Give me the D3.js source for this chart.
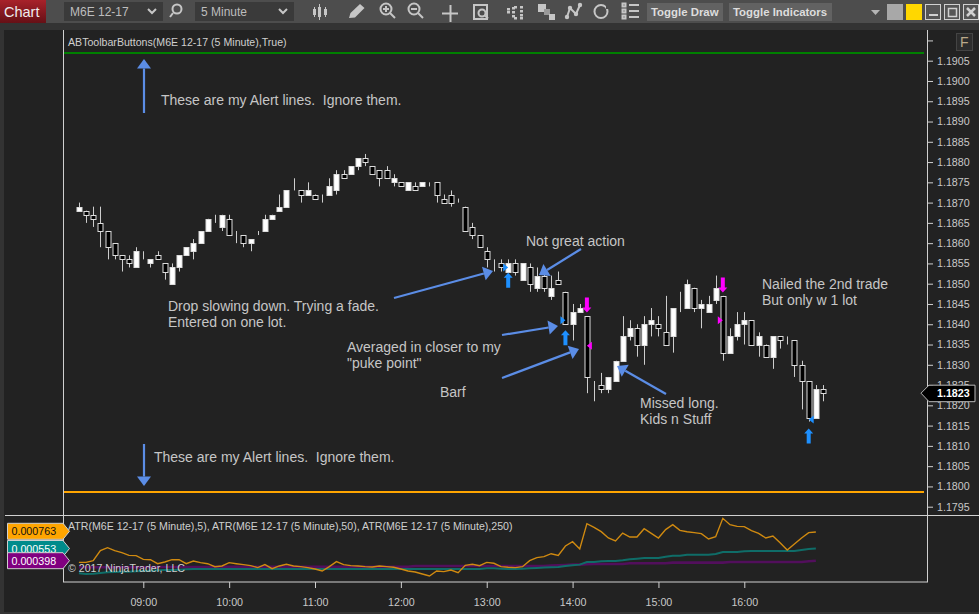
<!DOCTYPE html>
<html>
<head>
<meta charset="utf-8">
<script src="https://cdn.jsdelivr.net/npm/d3@7"></script>
<style>
    html, body { margin: 0; padding: 0; background: #333; overflow: hidden; }
    svg { display: block; font-family: "Liberation Sans", Arial, sans-serif; }
    text { white-space: pre; }
    .axis text { fill: #c8c8c8; font-size: 10.7px; font-family: "Liberation Sans", Arial, sans-serif; }
    .axis line { stroke: #d0d0d0; }
    .axis path { display: none; }
    .note { fill: #c6c6c6; font-size: 14px; }
    .small { fill: #cfcfcf; font-size: 10.6px; }
    .wick { stroke: #cdcdcd; stroke-width: 1; }
    .callout { stroke: #5b8de6; stroke-width: 2.2; fill: none; }
    .callhead { fill: #5b8de6; }
    .tb { fill: #bdbdbd; font-size: 12px; }
    .ico { fill: none; stroke: #c6c6c6; stroke-width: 2; }
    .icof { fill: #c6c6c6; }
</style>
</head>
<body>
<script>
// prices are in ten-thousandths (11868 = 1.1868), one entry per 5 minute bar from 08:15
var opens = [11868,11868,11867,11865,11863,11860,11857,11856,11854,11858,11855,11857,11855,11850,11854,11857,11858,11860,11863,11865,11864,11866,11861,11862,11860,11862,11863,11866,11868,11869,11873,11873,11872,11872,11870,11872,11873,11877,11877,11879,11881,11879,11878,11878,11875,11875,11873,11874,11874,11874,11875,11871,11872,11870,11869,11864,11862,11858,11856,11855,11853,11855,11851,11854,11849,11852,11847,11851,11848,11840,11843,11842,11826,11825,11824,11826,11831,11837,11839,11835,11840,11840,11838,11837,11844,11844,11849,11844,11843,11846,11847,11833,11837,11840,11841,11835,11835,11832,11837,11836,11836,11830,11826,11817,11824];
var highs = [11870,11868,11869,11869,11863,11860,11857,11857,11859,11858,11856,11858,11855,11855,11857,11859,11861,11863,11866,11867,11867,11867,11863,11862,11861,11863,11867,11867,11872,11873,11876,11873,11875,11872,11872,11876,11878,11878,11879,11881,11882,11879,11878,11879,11877,11875,11875,11875,11875,11875,11875,11872,11873,11871,11869,11865,11862,11859,11856,11856,11856,11856,11855,11855,11854,11854,11852,11853,11848,11845,11845,11842,11826,11828,11827,11831,11842,11841,11840,11842,11844,11842,11847,11844,11848,11851,11849,11846,11847,11852,11847,11839,11843,11843,11841,11838,11835,11837,11837,11837,11836,11831,11826,11825,11825];
var lows = [11868,11865,11864,11859,11856,11856,11853,11854,11854,11856,11854,11856,11851,11850,11853,11857,11856,11860,11863,11865,11863,11862,11860,11859,11858,11862,11863,11866,11868,11869,11873,11870,11872,11871,11870,11872,11872,11876,11877,11878,11879,11877,11874,11876,11874,11874,11873,11873,11874,11874,11870,11870,11869,11870,11863,11861,11859,11854,11853,11853,11853,11852,11851,11848,11848,11848,11846,11850,11840,11836,11843,11823,11821,11823,11823,11826,11831,11836,11832,11830,11837,11837,11835,11833,11843,11844,11843,11839,11843,11845,11831,11833,11836,11835,11835,11832,11832,11829,11834,11835,11827,11819,11816,11817,11821];
var closes = [11869,11867,11866,11863,11859,11857,11856,11855,11858,11858,11856,11856,11853,11854,11857,11859,11860,11863,11866,11865,11867,11862,11861,11860,11861,11862,11866,11867,11869,11873,11873,11872,11873,11871,11870,11874,11877,11876,11879,11881,11880,11877,11876,11876,11876,11874,11875,11873,11875,11874,11872,11870,11870,11870,11863,11862,11859,11856,11856,11854,11855,11853,11855,11850,11852,11849,11849,11850,11840,11843,11844,11827,11826,11824,11827,11831,11837,11839,11835,11840,11841,11839,11835,11844,11844,11850,11844,11845,11845,11849,11833,11837,11840,11841,11835,11837,11832,11837,11836,11836,11830,11826,11817,11824,11823];

// ATR in millionths, the last bar is still open so it has no point
var atr5 = [377,377,398,526,564,526,500,466,462,415,411,360,382,411,411,360,394,373,360,322,331,373,360,348,335,310,348,297,331,352,331,322,310,293,267,322,386,348,335,331,322,318,331,322,314,293,267,254,229,203,267,259,280,246,339,352,335,377,365,322,314,310,322,398,437,449,487,466,585,640,547,869,822,767,687,649,750,699,699,805,746,687,793,856,784,767,755,742,674,704,937,856,835,831,780,746,687,712,627,534,610,687,755,763];
var atr50 = [237,229,233,242,250,254,258,258,263,267,271,275,280,280,284,288,292,292,292,292,292,292,292,292,292,292,292,292,292,292,292,292,292,292,292,292,292,292,292,292,292,292,292,292,292,292,292,292,292,292,292,292,292,292,292,292,292,301,301,297,292,292,297,301,305,310,314,318,331,339,348,381,381,390,394,394,403,415,424,432,432,432,449,462,462,475,475,475,475,483,509,509,509,517,521,521,521,521,521,521,521,534,547,553];
var atr250 = [314,314,314,314,314,314,314,314,314,314,314,318,318,318,318,318,318,318,318,322,322,322,322,322,322,322,322,322,322,322,322,322,322,322,322,322,322,322,322,322,322,322,322,322,322,322,322,331,331,331,331,331,331,331,331,331,331,331,331,331,331,331,331,331,331,331,335,339,343,348,348,352,356,356,356,356,356,365,365,365,365,365,365,373,373,373,373,373,373,373,373,381,381,381,381,381,381,381,381,381,381,381,390,398];
var atrNames = ["ATR(M6E 12-17 (5 Minute),5)", "ATR(M6E 12-17 (5 Minute),50)", "ATR(M6E 12-17 (5 Minute),250)"];
var atrColors = ["#d08a10", "#0f6d68", "#520f5c"];
var atrTagColors = ["#ffa500", "#008b8b", "#800080"];

var priceTicks = d3.range(11795, 11915, 5);
var timeTicks = [9, 10, 11, 12, 13, 14, 15, 16];

// alert lines
var alertPrices = [11907, 11798.7];
var alertColors = ["#008000", "#ffa500"];

// trade markers: bar number, price
var buyArrows = [[60, 11849], [68, 11834.8], [102, 11810.6]];
var sellArrows = [[71, 11846.6], [90, 11851.5]];
var fillsIn = [[60, 11854, "#1e90ff", 1], [68, 11841, "#1e90ff", 1], [102, 11816.5, "#1e90ff", -1], [71, 11834.7, "#ff00ff", -1], [90, 11841, "#ff00ff", 1]];

// text notes: text, x, baseline
var notes = [
    ["These are my Alert lines.  Ignore them.", 161, 105],
    ["These are my Alert lines.  Ignore them.", 154, 462],
    ["Not great action", 526, 246],
    ["Drop slowing down. Trying a fade.", 168, 311],
    ["Entered on one lot.", 168, 327],
    ["Averaged in closer to my", 347, 352],
    ["\"puke point\"", 347, 368],
    ["Barf", 440, 397],
    ["Missed long.", 640, 408],
    ["Kids n Stuff", 640, 424],
    ["Nailed the 2nd trade", 762, 289],
    ["But only w 1 lot", 762, 305]
];
// drawn arrows: from x, from y, tip x, tip y
var callouts = [
    [144, 113, 144, 59], [144, 444, 144, 486],
    [394, 298, 493, 271], [581, 249, 539, 275],
    [502, 335, 558, 326], [502, 378, 579, 349], [666, 394, 617, 366]
];

var width = 979, height = 614;

var svg = d3.select("body").append("svg")
    .attr("width", width)
    .attr("height", height);

function rect(g, x, y, w, h, fill) {
    return g.append("rect").attr("x", x).attr("y", y).attr("width", w).attr("height", h).attr("fill", fill);
}

//window and chart background
rect(svg, 0, 0, width, height, "#333333");
rect(svg, 0, 0, width, 23, "#4d4d4d");
rect(svg, 4, 30, width - 4, 582, "#222222");

//scales
var barTimes = opens.map(function(d, i) { return new Date(2017, 8, 18, 8, 15 + i * 5); });
var x = d3.scaleTime()
    .domain([new Date(2017, 8, 18, 9, 0), new Date(2017, 8, 18, 16, 0)])
    .range([143.3, 744.3]);
var y = d3.scaleLinear()
    .domain([11905, 11795])
    .range([60.7, 506.7]);
var yAtr = d3.scaleLinear()
    .domain([763, 398])
    .range([532, 560.7]);

//snap to the pixel grid so the candles stay crisp
function snap(v) { return Math.round(v) + 0.5; }

//alert lines
svg.selectAll(".alert").data(alertPrices).enter().append("line")
    .attr("x1", 64).attr("x2", 924)
    .attr("y1", function(d) { return Math.round(y(d)); })
    .attr("y2", function(d) { return Math.round(y(d)); })
    .attr("stroke", function(d, i) { return alertColors[i]; })
    .attr("stroke-width", 2);

//candles
var bars = svg.selectAll(".bar").data(opens).enter().append("g").attr("class", "bar");
bars.append("line").attr("class", "wick")
    .attr("x1", function(d, i) { return snap(x(barTimes[i])); })
    .attr("x2", function(d, i) { return snap(x(barTimes[i])); })
    .attr("y1", function(d, i) { return y(highs[i]); })
    .attr("y2", function(d, i) { return y(lows[i]); });
bars.append("rect")
    .attr("x", function(d, i) { return snap(x(barTimes[i])) - 2.5; })
    .attr("width", 5)
    .attr("y", function(d, i) { return snap(y(Math.max(opens[i], closes[i]))); })
    .attr("height", function(d, i) { return snap(y(Math.min(opens[i], closes[i]))) - snap(y(Math.max(opens[i], closes[i]))); })
    .attr("fill", function(d, i) { return closes[i] >= opens[i] ? "#ffffff" : "#000000"; })
    .attr("stroke", "#dcdcdc")
    .attr("stroke-width", 1);

//trade arrows
function blockArrow(dir) {
    // pointing up when dir is 1, the anchor is the tail
    return "M-2,0 L2,0 L2," + (-10 * dir) + " L4.5," + (-10 * dir) + " L0," + (-15 * dir) + " L-4.5," + (-10 * dir) + " L-2," + (-10 * dir) + " Z";
}
svg.selectAll(".buy").data(buyArrows).enter().append("path")
    .attr("d", blockArrow(1))
    .attr("fill", "#1e90ff")
    .attr("transform", function(d) { return "translate(" + x(barTimes[d[0]]) + "," + y(d[1]) + ")"; });
svg.selectAll(".sell").data(sellArrows).enter().append("path")
    .attr("d", blockArrow(-1))
    .attr("fill", "#ff00ff")
    .attr("transform", function(d) { return "translate(" + x(barTimes[d[0]]) + "," + y(d[1]) + ")"; });
svg.selectAll(".fill").data(fillsIn).enter().append("path")
    .attr("d", function(d) { return "M0,0 L" + (-5 * d[3]) + ",-4 L" + (-5 * d[3]) + ",4 Z"; })
    .attr("fill", function(d) { return d[2]; })
    .attr("transform", function(d) { return "translate(" + x(barTimes[d[0]]) + "," + y(d[1]) + ")"; });

//hand drawn arrows
callouts.forEach(function(c) {
    var a = Math.atan2(c[3] - c[1], c[2] - c[0]),
        len = 9.5, half = 7,
        bx = c[2] - len * Math.cos(a), by = c[3] - len * Math.sin(a),
        nx = -Math.sin(a) * half, ny = Math.cos(a) * half;
    svg.append("line").attr("class", "callout")
        .attr("x1", c[0]).attr("y1", c[1]).attr("x2", bx).attr("y2", by);
    svg.append("path").attr("class", "callhead")
        .attr("d", "M" + c[2] + "," + c[3] + " L" + (bx + nx) + "," + (by + ny) + " L" + (bx - nx) + "," + (by - ny) + " Z");
});

svg.selectAll(".note").data(notes).enter().append("text")
    .attr("class", "note")
    .attr("x", function(d) { return d[1]; })
    .attr("y", function(d) { return d[2]; })
    .text(function(d) { return d[0]; });

//ATR lines, slowest first so the fast one stays on top
var atrLine = d3.line()
    .x(function(d, i) { return x(barTimes[i]); })
    .y(function(d) { return yAtr(d); });
[atr250, atr50, atr5].forEach(function(series, k) {
    svg.append("path")
        .attr("d", atrLine(series))
        .attr("fill", "none")
        .attr("stroke", atrColors[2 - k])
        .attr("stroke-width", k == 2 ? 1.4 : (k == 0 ? 2.6 : 2));
});

//frame
var frame = svg.append("g").attr("stroke", "#d0d0d0").attr("stroke-width", 1);
frame.append("line").attr("x1", 63.5).attr("x2", 63.5).attr("y1", 30).attr("y2", 582);
frame.append("line").attr("x1", 927.5).attr("x2", 927.5).attr("y1", 30).attr("y2", 582);
frame.append("line").attr("x1", 63).attr("x2", 928).attr("y1", 582).attr("y2", 582);
frame.append("line").attr("x1", 5).attr("x2", width).attr("y1", 515.5).attr("y2", 515.5);

//axes
var yAxis = d3.axisRight(y)
    .tickValues(priceTicks)
    .tickSize(5)
    .tickPadding(4)
    .tickFormat(function(d) { return d > 11905 ? "" : (d / 10000).toFixed(4); });
svg.append("g").attr("class", "axis").attr("transform", "translate(928,0)").call(yAxis);

var xAxis = d3.axisBottom(x)
    .tickValues(timeTicks.map(function(h) { return new Date(2017, 8, 18, h, 0); }))
    .tickSize(6)
    .tickPadding(10)
    .tickFormat(d3.timeFormat("%H:%M"));
svg.append("g").attr("class", "axis").attr("transform", "translate(0,582)").call(xAxis);

//panel titles
svg.append("text").attr("class", "small").attr("x", 68).attr("y", 46).text("ABToolbarButtons(M6E 12-17 (5 Minute),True)");
svg.append("text").attr("class", "small").attr("x", 68).attr("y", 530).text(atrNames.join(", "));
svg.append("text").attr("class", "small").attr("x", 68).attr("y", 572).text("\u00a9 2017 NinjaTrader, LLC");

//ATR value tags, purple sits over teal
[atr5, atr50, atr250].forEach(function(series, k) {
    var v = series[series.length - 1], cy = k == 0 ? yAtr(v) - 0.7 : yAtr(v);
    svg.append("path")
        .attr("d", "M7.5," + (cy - 8) + " H63 L69.5," + cy + " L63," + (cy + 8) + " H7.5 Z")
        .attr("fill", atrTagColors[k])
        .attr("stroke", "#cfcfcf");
    svg.append("text")
        .attr("x", 11.5).attr("y", cy + 4)
        .attr("font-size", "10.7px")
        .attr("fill", k == 0 ? "#111" : "#fff")
        .text((v / 1e6).toFixed(6));
});

//last price marker
var lastY = y(closes[closes.length - 1]);
svg.append("path")
    .attr("d", "M921," + lastY + " L929," + (lastY - 8) + " H975 V" + (lastY + 8.5) + " H929 Z")
    .attr("fill", "#000")
    .attr("stroke", "#b8b8b8");
svg.append("text")
    .attr("x", 937).attr("y", lastY + 4)
    .attr("font-size", "10.7px").attr("font-weight", "bold")
    .attr("fill", "#fff")
    .text((closes[closes.length - 1] / 10000).toFixed(4));

//F button
rect(svg, 956.5, 33.5, 16, 17, "#2c2c2c").attr("stroke", "#444");
svg.append("text").attr("x", 960).attr("y", 47).attr("font-size", "14px").attr("fill", "#bba98a").text("F");

//toolbar
var tb = svg.append("g");
var grad = svg.append("defs").append("linearGradient").attr("id", "red").attr("x2", 0).attr("y2", 1);
grad.append("stop").attr("offset", 0).attr("stop-color", "#a8222a");
grad.append("stop").attr("offset", 1).attr("stop-color", "#661016");
rect(tb, 0, 0, 46, 23, "url(#red)");
tb.append("text").attr("x", 4).attr("y", 17).attr("font-size", "14.5px").attr("fill", "#eee").text("Chart");

rect(tb, 64, 2, 99, 19, "#3a3a3a");
tb.append("text").attr("class", "tb").attr("x", 70).attr("y", 16).text("M6E 12-17");
rect(tb, 195, 2, 99, 19, "#3a3a3a");
tb.append("text").attr("class", "tb").attr("x", 201).attr("y", 16).text("5 Minute");
[152, 283].forEach(function(cx) {
    tb.append("path").attr("class", "ico").attr("stroke-width", 2.2).attr("d", "M" + (cx - 4) + ",9 L" + cx + ",13 L" + (cx + 4) + ",9");
});

//search
tb.append("circle").attr("class", "ico").attr("cx", 177).attr("cy", 9).attr("r", 4.5).attr("stroke", "#8a8a8a");
tb.append("path").attr("class", "ico").attr("stroke", "#8a8a8a").attr("stroke-width", 3).attr("d", "M173,13 L170,17");
//candles icon
[[314, 7, 17, 9, 15], [319, 4, 20, 7, 17], [325, 7, 17, 9, 15]].forEach(function(c) {
    tb.append("line").attr("stroke", "#c6c6c6").attr("x1", c[0] + 0.5).attr("x2", c[0] + 0.5).attr("y1", c[1]).attr("y2", c[2]);
    rect(tb, c[0] - 1, c[3], 3, c[4] - c[3], "#c6c6c6");
});
//pencil
tb.append("path").attr("class", "icof").attr("d", "M349,18 L350.5,13 L360,4 L364.5,8 L355,17.5 Z");
//zoom in and out
tb.append("circle").attr("class", "ico").attr("cx", 386).attr("cy", 9).attr("r", 5.5).attr("stroke", "#d8d8d8");
tb.append("path").attr("class", "ico").attr("stroke", "#d8d8d8").attr("stroke-width", 1.5).attr("d", "M383,9 H389 M386,6 V12");
tb.append("path").attr("class", "ico").attr("stroke", "#d8d8d8").attr("stroke-width", 3).attr("d", "M390,13 L395,18");
tb.append("circle").attr("class", "ico").attr("cx", 414).attr("cy", 9).attr("r", 5.5).attr("stroke", "#6a6a6a");
tb.append("path").attr("class", "ico").attr("stroke", "#6a6a6a").attr("stroke-width", 1.5).attr("d", "M411,9 H417");
tb.append("path").attr("class", "ico").attr("stroke", "#6a6a6a").attr("stroke-width", 3).attr("d", "M418,13 L423,18");
//crosshair
tb.append("path").attr("class", "ico").attr("stroke-width", 1).attr("d", "M442,13.5 H458 M450.5,5 V22");
//data box
tb.append("rect").attr("class", "ico").attr("stroke-width", 1.5).attr("x", 474).attr("y", 5).attr("width", 13).attr("height", 14);
tb.append("circle").attr("class", "ico").attr("stroke-width", 1.5).attr("cx", 482).attr("cy", 13).attr("r", 3.5);
tb.append("path").attr("class", "ico").attr("stroke-width", 2).attr("d", "M485,15.5 L488,18.5");
//bar spacing dots
[[507, 8], [507, 11], [512, 7], [512, 11], [512, 15], [520, 6], [520, 10], [520, 14], [520, 17], [514, 6], [514, 17]].forEach(function(p) {
    rect(tb, p[0], p[1], 3, 2.5, "#c6c6c6");
});
//overlapping squares
rect(tb, 538, 4, 8, 8, "#c6c6c6");
rect(tb, 544, 9, 6, 6, "#9a9a9a");
rect(tb, 549, 14, 6, 6, "#c6c6c6");
//drawing tool
tb.append("path").attr("class", "ico").attr("stroke-width", 2).attr("d", "M567,17 L570,8 L576,14 L580,5");
[[567, 17], [570, 8], [576, 14], [580, 5]].forEach(function(p) {
    tb.append("circle").attr("class", "icof").attr("cx", p[0]).attr("cy", p[1]).attr("r", 2.2);
});
//reload
tb.append("circle").attr("class", "ico").attr("stroke-width", 3).attr("cx", 601).attr("cy", 11.5).attr("r", 6.5);
rect(tb, 606, 6, 3, 3, "#4d4d4d");
//list
[5, 11, 17].forEach(function(yy) {
    tb.append("rect").attr("class", "ico").attr("stroke-width", 1).attr("x", 622.5).attr("y", yy - 1.5).attr("width", 3).attr("height", 3);
    rect(tb, 629, yy - 1, 10, 2, "#c6c6c6");
});
//toggle buttons
rect(tb, 647, 3, 76, 18, "#626262");
rect(tb, 729, 3, 103, 18, "#626262");
tb.append("text").attr("x", 651).attr("y", 16).attr("font-size", "11.4px").attr("font-weight", "bold").attr("fill", "#ddd").text("Toggle Draw");
tb.append("text").attr("x", 733).attr("y", 16).attr("font-size", "11.4px").attr("font-weight", "bold").attr("fill", "#ddd").text("Toggle Indicators");
//window buttons
tb.append("path").attr("fill", "#b5b5b5").attr("d", "M871,10 H880 L875.5,15 Z");
rect(tb, 887, 4, 16, 16, "#a8a8a8");
rect(tb, 906, 4, 16, 16, "#ffd700");
[925, 944, 963].forEach(function(bx) {
    tb.append("rect").attr("x", bx + 0.5).attr("y", 4.5).attr("width", 15).attr("height", 15).attr("fill", "#555").attr("stroke", "#d0d0d0");
});
rect(tb, 929, 14, 9, 2, "#d0d0d0");
tb.append("rect").attr("x", 948.5).attr("y", 8.5).attr("width", 8).attr("height", 8).attr("fill", "none").attr("stroke", "#d0d0d0").attr("stroke-width", 1.5);
tb.append("path").attr("stroke", "#d0d0d0").attr("stroke-width", 2.5).attr("d", "M967,8 L975,16 M975,8 L967,16");
</script>
</body>
</html>
